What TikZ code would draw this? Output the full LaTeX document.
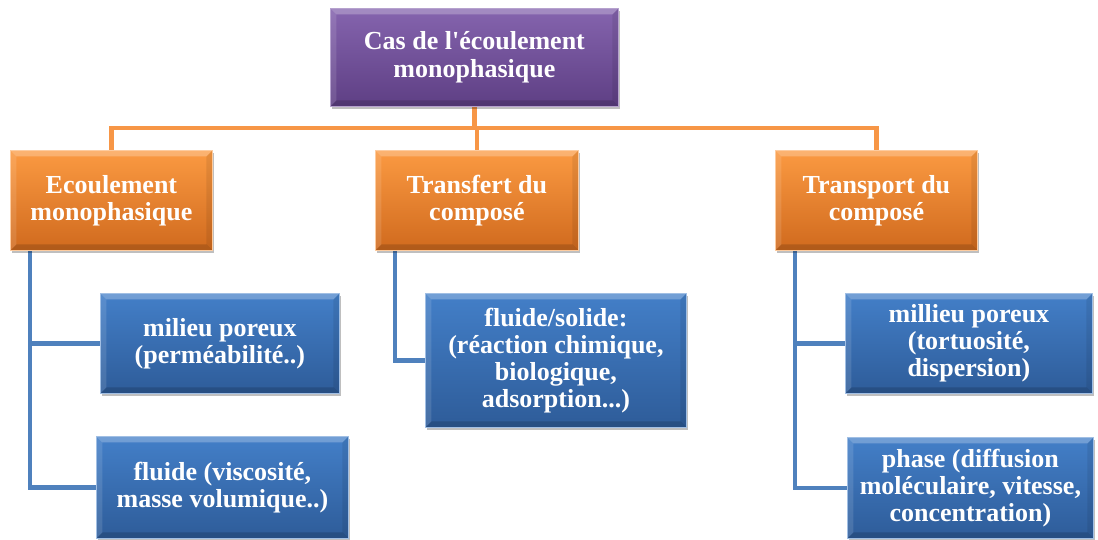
\documentclass[tikz,border=0pt]{standalone}
\usepackage{fontspec}
\setmainfont{Liberation Serif}[Ligatures=TeXOff]
\usetikzlibrary{shadows,backgrounds}
\definecolor{purpT}{HTML}{8564AE}
\definecolor{purpB}{HTML}{5E3F84}
\definecolor{orT}{HTML}{FB9A42}
\definecolor{orB}{HTML}{D06A1E}
\definecolor{blT}{HTML}{437FC8}
\definecolor{blB}{HTML}{2E5C99}
\definecolor{oline}{HTML}{F79646}
\definecolor{bline}{HTML}{4F81BD}
\tikzset{
  bevel/.style={path picture={
    \coordinate (NW) at (path picture bounding box.north west);
    \coordinate (NE) at (path picture bounding box.north east);
    \coordinate (SW) at (path picture bounding box.south west);
    \coordinate (SE) at (path picture bounding box.south east);
    \coordinate (nw) at ([shift={(6pt,-6pt)}]NW);
    \coordinate (ne) at ([shift={(-6pt,-6pt)}]NE);
    \coordinate (sw) at ([shift={(6pt,6pt)}]SW);
    \coordinate (se) at ([shift={(-6pt,6pt)}]SE);
    \fill[white, opacity=0.25] (NW) -- (NE) -- (ne) -- (nw) -- cycle;
    \fill[white, opacity=0.12] (NW) -- (nw) -- (sw) -- (SW) -- cycle;
    \fill[black, opacity=0.15] (SW) -- (sw) -- (se) -- (SE) -- cycle;
    \fill[black, opacity=0.08] (NE) -- (SE) -- (se) -- (ne) -- cycle;
  }},
  box/.style={anchor=north west, inner sep=2pt, align=center, text=white,
    font=\fontsize{26}{27}\selectfont\bfseries, bevel,
    drop shadow={shadow xshift=2pt, shadow yshift=-3pt, opacity=0.25, fill=black}},
  purpbox/.style={box, top color=purpT, bottom color=purpB, draw=purpT!60!white, line width=0.8pt},
  orbox/.style={box, top color=orT, bottom color=orB, draw=orT!50!white, line width=0.8pt},
  blbox/.style={box, top color=blT, bottom color=blB, draw=blT!50!white, line width=0.8pt},
  oconn/.style={draw=oline, line width=4.5pt, line cap=rect},
  bconn/.style={draw=bline, line width=4.5pt, line cap=rect},
}
\begin{document}
\begin{tikzpicture}[x=1pt,y=-1pt]
\useasboundingbox (0,0) rectangle (1098,540);
\coordinate (bar) at (474,128);
\node[purpbox, minimum width=288pt, minimum height=98pt] (top) at (330,8) {Cas de l'écoulement\\[1pt]monophasique};
\node[orbox, minimum width=202pt, minimum height=100pt] (o1) at (10,150) {Ecoulement\\monophasique};
\node[orbox, minimum width=203pt, minimum height=100pt] (o2) at (375,150) {Transfert du\\composé};
\node[orbox, minimum width=202pt, minimum height=100pt] (o3) at (775,150) {Transport du\\composé};
\node[blbox, minimum width=239pt, minimum height=100pt] (b1) at (100,293) {milieu poreux\\(perméabilité..)};
\node[blbox, minimum width=252pt, minimum height=102pt] (b2) at (96,436) {fluide (viscosité,\\masse volumique..)};
\node[blbox, minimum width=261pt, minimum height=134pt] (b3) at (425,293) {fluide/solide:\\(réaction chimique,\\biologique,\\adsorption...)};
\node[blbox, minimum width=247pt, minimum height=100pt] (b4) at (845,293) {millieu poreux\\(tortuosité,\\dispersion)};
\node[blbox, minimum width=246pt, minimum height=101pt] (b5) at (847,437) {phase (diffusion\\moléculaire, vitesse,\\concentration)};
\begin{scope}[on background layer]
\path[oconn] (top.south) -- (top.south |- bar);
\path[oconn] (o1.north) -- (o1.north |- bar) -- (o3.north |- bar) -- (o3.north);
\path[oconn] (o2.north) -- (o2.north |- bar);
\path[bconn] ([xshift=20pt]o1.south west) |- (b1.west);
\path[bconn] ([xshift=20pt]o1.south west) |- (b2.west);
\path[bconn] ([xshift=20pt]o2.south west) |- (b3.west);
\path[bconn] ([xshift=20pt]o3.south west) |- (b4.west);
\path[bconn] ([xshift=20pt]o3.south west) |- (b5.west);
\end{scope}
\end{tikzpicture}
\end{document}
